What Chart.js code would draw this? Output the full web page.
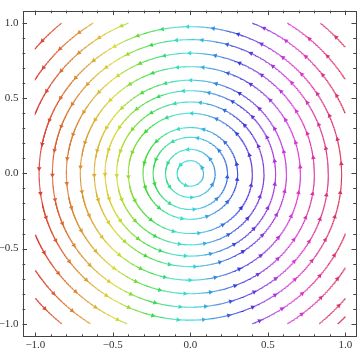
<!DOCTYPE html>
<html><head><meta charset="utf-8">
<script src="https://cdn.jsdelivr.net/npm/chart.js@4"></script>
<style>html,body{margin:0;padding:0;background:#fff}#wrap{width:360px;height:351px}</style>
</head><body><div id="wrap"><canvas id="c" width="360" height="351"></canvas></div>
<script>
// Streamline radii of the closed circular stream lines (field {-y, x})
const circleRadii = [0.085, 0.16, 0.24, 0.305, 0.40, 0.475, 0.55, 0.62, 0.71, 0.80, 0.89, 0.976];
// Radii of stream arcs clipped by the [-1,1] square, per corner
const cornerTR = [1.077, 1.18, 1.306];
const cornerTL = [1.077, 1.18, 1.30];
const cornerBL = [1.08, 1.19, 1.30];
const cornerBR = [1.077, 1.18, 1.30, 1.38];
const tickLabels = [-1.0, -0.5, 0.0, 0.5, 1.0];
const xRange = [-1.083, 1.069];
const yRange = [-1.088, 1.083];
// colour palette: hue stops versus x position
const hueStopX = [-1, -0.5, -0.3, -0.1, 0, 0.25, 0.5, 0.75, 1];
const hueStopH = [0, 58, 112, 165, 180, 225, 275, 315, 350];

function hue(x) {
  let h = hueStopH[0];
  for (let i = 0; i < hueStopX.length - 1; i++) {
    if (x >= hueStopX[i] && x <= hueStopX[i + 1]) {
      const f = (x - hueStopX[i]) / (hueStopX[i + 1] - hueStopX[i]);
      h = hueStopH[i] + f * (hueStopH[i + 1] - hueStopH[i]);
      break;
    }
    if (x > hueStopX[i + 1]) h = hueStopH[i + 1];
  }
  return `hsl(${h}, 70%, 53%)`;
}

function arcPoints(r, t0, t1) {
  const n = Math.max(24, Math.ceil((t1 - t0) * r * 160));
  const pts = [];
  for (let i = 0; i <= n; i++) {
    const t = t0 + (t1 - t0) * i / n;
    pts.push({x: r * Math.cos(t), y: r * Math.sin(t)});
  }
  return pts;
}
const arcs = [];
circleRadii.forEach((r, i) => arcs.push({r, t0: 0, t1: 2 * Math.PI, k: i}));
[[cornerTR, 0], [cornerTL, 1], [cornerBL, 2], [cornerBR, 3]].forEach(([list, q], j) => {
  list.forEach((r, i) => {
    const base = q * Math.PI / 2;
    arcs.push({r, t0: base + Math.acos(1 / r), t1: base + Math.asin(1 / r), k: 20 + j * 4 + i});
  });
});

const arrowSpacing = 0.165;
const arrows = [];
arcs.forEach(a => {
  const len = (a.t1 - a.t0) * a.r;
  const phase = ((a.k * 0.377) % 1) * arrowSpacing + 0.04;
  for (let s = phase; s < len - 0.02; s += arrowSpacing) {
    const t = a.t0 + s / a.r;
    arrows.push({x: a.r * Math.cos(t), y: a.r * Math.sin(t), rot: -t * 180 / Math.PI});
  }
});

const datasets = arcs.map(a => ({
  type: 'line',
  data: arcPoints(a.r, a.t0, a.t1),
  borderWidth: 1.1,
  pointRadius: 0,
  fill: false,
  tension: 0,
  order: 2,
  segment: { borderColor: ctx => hue((ctx.p0.parsed.x + ctx.p1.parsed.x) / 2) }
}));
datasets.push({
  type: 'scatter',
  data: arrows,
  pointStyle: 'triangle',
  pointRadius: 2.7,
  borderWidth: 0,
  order: 1,
  rotation: ctx => ctx.raw ? ctx.raw.rot : 0,
  backgroundColor: ctx => ctx.raw ? hue(ctx.raw.x) : '#000'
});

const fmt = v => (Math.abs(v) < 1e-9 ? '0.0' : v.toFixed(1).replace('-', '\u2212'));

const framePlugin = {
  id: 'frame',
  afterDraw(chart) {
    const {ctx, chartArea: ca, scales: {x, y}} = chart;
    ctx.save();
    ctx.strokeStyle = '#444';
    ctx.lineWidth = 1;
    ctx.strokeRect(Math.round(ca.left) + 0.5, Math.round(ca.top) + 0.5,
      Math.round(ca.right - ca.left) - 1, Math.round(ca.bottom - ca.top) - 1);
    ctx.beginPath();
    for (let i = -10; i <= 10; i++) {
      const v = i / 10;
      const L = (i % 5 === 0) ? 4.5 : 2.7;
      const px = Math.round(x.getPixelForValue(v)) + 0.5;
      ctx.moveTo(px, ca.bottom); ctx.lineTo(px, ca.bottom - L);
      ctx.moveTo(px, ca.top); ctx.lineTo(px, ca.top + L);
      const py = Math.round(y.getPixelForValue(v)) + 0.5;
      ctx.moveTo(ca.left, py); ctx.lineTo(ca.left + L, py);
      ctx.moveTo(ca.right, py); ctx.lineTo(ca.right - L, py);
    }
    ctx.stroke();
    ctx.restore();
  }
};

new Chart(document.getElementById('c'), {
  data: { datasets },
  options: {
    responsive: false,
    animation: false,
    events: [],
    layout: { padding: { left: 0, right: 4, top: 0, bottom: 0 } },
    plugins: { legend: { display: false }, tooltip: { enabled: false } },
    scales: {
      x: {
        type: 'linear', min: xRange[0], max: xRange[1],
        grid: { display: false, drawTicks: false }, border: { display: false },
        afterBuildTicks: s => { s.ticks = tickLabels.map(v => ({value: v})); },
        afterFit: s => { s.height = 14; },
        ticks: { callback: fmt, padding: 2, maxRotation: 0, color: '#333',
          font: { family: 'Liberation Serif', size: 11 } }
      },
      y: {
        type: 'linear', min: yRange[0], max: yRange[1],
        grid: { display: false, drawTicks: false }, border: { display: false },
        afterBuildTicks: s => { s.ticks = tickLabels.map(v => ({value: v})); },
        afterFit: s => { s.width = 22.5; },
        ticks: { callback: fmt, padding: 4, color: '#333',
          font: { family: 'Liberation Serif', size: 11 } }
      }
    }
  },
  plugins: [framePlugin]
});
</script></body></html>
